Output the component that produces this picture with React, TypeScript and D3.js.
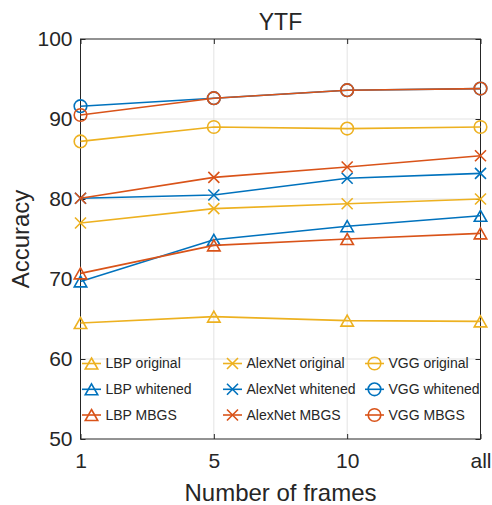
import React, { useEffect, useRef } from 'react';
import * as d3 from 'd3';

// x categories and y ticks
const frames = ['1', '5', '10', 'all'];
const yTicks = [50, 60, 70, 80, 90, 100];

// accuracy per method
const lbpOriginal = [64.5, 65.3, 64.8, 64.7];
const lbpWhitened = [69.7, 74.9, 76.6, 77.9];
const lbpMbgs = [70.7, 74.2, 75.0, 75.7];
const alexOriginal = [77.0, 78.8, 79.4, 80.0];
const alexWhitened = [80.1, 80.5, 82.6, 83.2];
const alexMbgs = [80.1, 82.7, 84.0, 85.4];
const vggOriginal = [87.2, 89.0, 88.8, 89.0];
const vggWhitened = [91.6, 92.6, 93.6, 93.8];
const vggMbgs = [90.5, 92.6, 93.6, 93.8];

const BLUE = '#0072BD';
const RED = '#D95319';
const YELLOW = '#EDB120';
const INK = '#262626';
const FONT = '"Liberation Sans", Arial, Helvetica, sans-serif';

type Marker = 'tri' | 'x' | 'circle';
const series: { name: string; values: number[]; color: string; marker: Marker }[] = [
  { name: 'LBP original', values: lbpOriginal, color: YELLOW, marker: 'tri' },
  { name: 'LBP whitened', values: lbpWhitened, color: BLUE, marker: 'tri' },
  { name: 'LBP MBGS', values: lbpMbgs, color: RED, marker: 'tri' },
  { name: 'AlexNet original', values: alexOriginal, color: YELLOW, marker: 'x' },
  { name: 'AlexNet whitened', values: alexWhitened, color: BLUE, marker: 'x' },
  { name: 'AlexNet MBGS', values: alexMbgs, color: RED, marker: 'x' },
  { name: 'VGG original', values: vggOriginal, color: YELLOW, marker: 'circle' },
  { name: 'VGG whitened', values: vggWhitened, color: BLUE, marker: 'circle' },
  { name: 'VGG MBGS', values: vggMbgs, color: RED, marker: 'circle' },
];

const drawMarker = (g: any, kind: Marker, cx: number, cy: number, color: string) => {
  if (kind === 'circle') {
    g.append('circle').attr('cx', cx).attr('cy', cy).attr('r', 6.3)
      .attr('fill', 'none').attr('stroke', color).attr('stroke-width', 1.6);
  } else if (kind === 'tri') {
    const h = 11, w = 12.5;
    const pts = [[cx, cy - h / 2], [cx + w / 2, cy + h / 2], [cx - w / 2, cy + h / 2]];
    g.append('polygon').attr('points', pts.map((p) => p.join(',')).join(' '))
      .attr('fill', 'none').attr('stroke', color).attr('stroke-width', 1.6)
      .attr('stroke-linejoin', 'miter');
  } else {
    const s = 5.5;
    g.append('path')
      .attr('d', `M${cx - s},${cy - s}L${cx + s},${cy + s}M${cx - s},${cy + s}L${cx + s},${cy - s}`)
      .attr('stroke', color).attr('stroke-width', 1.6).attr('fill', 'none');
  }
};

const App = () => {
  const ref = useRef<SVGSVGElement | null>(null);

  useEffect(() => {
    const svg = d3.select(ref.current);
    svg.selectAll('*').remove();

    const left = 80.5, right = 480.5, top = 39, bottom = 439;
    const x = d3.scalePoint<string>().domain(frames).range([left, right]);
    const y = d3.scaleLinear().domain([50, 100]).range([bottom, top]);

    // grid
    const grid = svg.append('g').attr('stroke', '#e3e3e3').attr('stroke-width', 1);
    yTicks.slice(1, -1).forEach((t) => {
      grid.append('line').attr('x1', left).attr('x2', right).attr('y1', y(t)).attr('y2', y(t));
    });
    frames.slice(1, -1).forEach((f) => {
      grid.append('line').attr('x1', x(f)).attr('x2', x(f)).attr('y1', top).attr('y2', bottom);
    });

    // axes (ticks inside, box on)
    const styleAxis = (a: any) => {
      a.select('.domain').remove();
      a.selectAll('line').attr('stroke', INK);
      a.selectAll('text').attr('fill', INK).style('font-family', FONT).style('font-size', '21px');
    };
    svg.append('g').attr('transform', `translate(${left},0)`)
      .call(d3.axisLeft(y).tickValues(yTicks).tickSize(-5).tickPadding(8).tickSizeOuter(0))
      .call(styleAxis);
    svg.append('g').attr('transform', `translate(${right},0)`)
      .call(d3.axisRight(y).tickValues(yTicks).tickSize(-5).tickFormat(() => '').tickSizeOuter(0))
      .call(styleAxis);
    svg.append('g').attr('transform', `translate(0,${bottom})`)
      .call(d3.axisBottom(x).tickSize(-5).tickPadding(14).tickSizeOuter(0))
      .call(styleAxis)
      .selectAll('text').attr('dy', '0.71em');
    svg.append('g').attr('transform', `translate(0,${top})`)
      .call(d3.axisTop(x).tickSize(-5).tickFormat(() => '').tickSizeOuter(0))
      .call(styleAxis);

    svg.append('rect').attr('x', left).attr('y', top).attr('width', right - left).attr('height', bottom - top)
      .attr('fill', 'none').attr('stroke', INK).attr('stroke-width', 1);

    // series
    const line = d3.line<number>().x((d, i) => x(frames[i]) as number).y((d) => y(d));
    series.forEach((s) => {
      const g = svg.append('g');
      g.append('path').attr('d', line(s.values)).attr('fill', 'none')
        .attr('stroke', s.color).attr('stroke-width', 1.6);
      s.values.forEach((v, i) => drawMarker(g, s.marker, x(frames[i]) as number, y(v), s.color));
    });

    // legend, 3 columns filled top to bottom
    const colX = [82, 223, 365];
    const rowY = [363.5, 389.3, 415];
    series.forEach((s, i) => {
      const cx = colX[Math.floor(i / 3)];
      const cy = rowY[i % 3];
      const g = svg.append('g');
      g.append('line').attr('x1', cx).attr('x2', cx + 19).attr('y1', cy).attr('y2', cy)
        .attr('stroke', s.color).attr('stroke-width', 1.6);
      drawMarker(g, s.marker, cx + 9.5, cy, s.color);
      g.append('text').attr('x', cx + 23.5).attr('y', cy).attr('dy', '0.35em')
        .style('font-family', FONT).style('font-size', '14px').attr('fill', INK).text(s.name);
    });

    // title and labels
    svg.append('text').attr('x', (left + right) / 2).attr('y', 30).attr('text-anchor', 'middle')
      .style('font-family', FONT).style('font-size', '23px').attr('fill', INK).text('YTF');
    svg.append('text').attr('x', (left + right) / 2).attr('y', 501).attr('text-anchor', 'middle')
      .style('font-family', FONT).style('font-size', '24px').attr('fill', INK).text('Number of frames');
    svg.append('text').attr('transform', `translate(29,${(top + bottom) / 2}) rotate(-90)`)
      .attr('text-anchor', 'middle')
      .style('font-family', FONT).style('font-size', '24px').attr('fill', INK).text('Accuracy');
  }, []);

  return (
    <svg ref={ref} width={492} height={505}
      style={{ position: 'absolute', left: 0, top: 0, background: '#fff' }} />
  );
};

export default App;
